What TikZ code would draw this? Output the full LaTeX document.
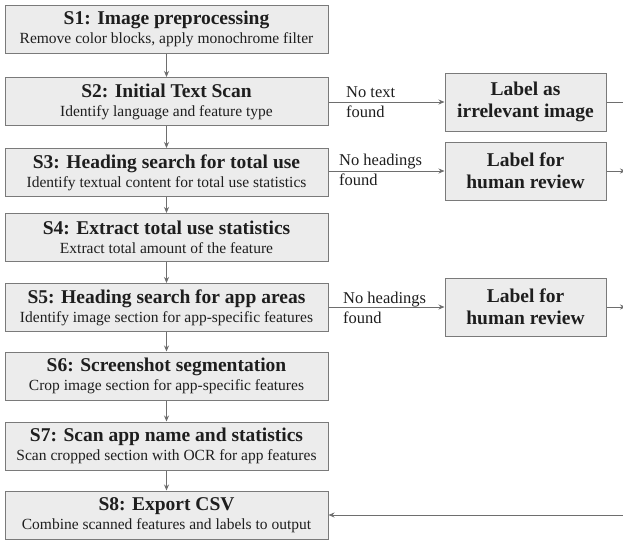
\documentclass[tikz,border=0pt]{standalone}
\usepackage{fontspec}
\setmainfont{Liberation Serif}
\usetikzlibrary{arrows.meta}
\definecolor{boxfill}{HTML}{ECECEC}
\definecolor{boxdraw}{HTML}{7A7A7A}
\definecolor{linecol}{HTML}{6E6E6E}
\definecolor{txt}{HTML}{1E1E1E}
\newcommand{\ttl}{\fontsize{19.5}{22}\selectfont\bfseries}
\newcommand{\sbt}{\fontsize{15.5}{19}\selectfont}
\newcommand{\elab}{\fontsize{16.5}{20}\selectfont}
\begin{document}
\begin{tikzpicture}[x=1pt,y=-1pt,
  stepbox/.style={draw=boxdraw, fill=boxfill, line width=1pt, minimum width=323pt, minimum height=48pt, inner sep=0pt, align=center, text=txt, font=\sbt},
  sidebox/.style={draw=boxdraw, fill=boxfill, line width=1pt, minimum width=161pt, minimum height=58pt, inner sep=0pt, align=center, text=txt, font=\ttl},
  conn/.style={draw=linecol, line width=0.9pt, -{Stealth[length=6pt,width=5pt]}},
  plain/.style={draw=linecol, line width=0.9pt},
  elabel/.style={anchor=west, align=left, inner sep=0pt, text=txt, font=\elab}
]
\useasboundingbox (0,0) rectangle (623,541);
\fill[white] (0,0) rectangle (623,541);

\node[stepbox] (s1) at (166.5,29) {{\ttl S1: Image preprocessing}\\Remove color blocks, apply monochrome filter};
\node[stepbox] (s2) at (166.5,101.5) {{\ttl S2: Initial Text Scan}\\Identify language and feature type};
\node[stepbox] (s3) at (166.5,172.5) {{\ttl S3: Heading search for total use}\\Identify textual content for total use statistics};
\node[stepbox] (s4) at (166.5,237.5) {{\ttl S4: Extract total use statistics}\\Extract total amount of the feature};
\node[stepbox] (s5) at (166.5,307.5) {{\ttl S5: Heading search for app areas}\\Identify image section for app-specific features};
\node[stepbox] (s6) at (166.5,376) {{\ttl S6: Screenshot segmentation}\\Crop image section for app-specific features};
\node[stepbox] (s7) at (166.5,446) {{\ttl S7: Scan app name and statistics}\\Scan cropped section with OCR for app features};
\node[stepbox] (s8) at (166.5,515) {{\ttl S8: Export CSV}\\Combine scanned features and labels to output};

\node[sidebox] (r1) at (525.5,102) {Label as\\irrelevant image};
\node[sidebox] (r2) at (525.5,171) {Label for\\human review};
\node[sidebox] (r3) at (525.5,307) {Label for\\human review};

\draw[conn] (s1) -- (s2);
\draw[conn] (s2) -- (s3);
\draw[conn] (s3) -- (s4);
\draw[conn] (s4) -- (s5);
\draw[conn] (s5) -- (s6);
\draw[conn] (s6) -- (s7);
\draw[conn] (s7) -- (s8);

\draw[conn] (s2.east |- r1.west) -- (r1.west);
\draw[conn] (s3.east |- r2.west) -- (r2.west);
\draw[conn] (s5.east |- r3.west) -- (r3.west);

\node[elabel] (l1) at (346,102) {No text\\found};
\node[elabel] (l2) at (339,170) {No headings\\found};
\node[elabel] (l3) at (343,308) {No headings\\found};

\coordinate (e1) at (623,102);
\coordinate (e2) at (626,171);
\coordinate (e3) at (626,307);
\coordinate (e8) at (623,515);
\begin{scope}
\clip (0,0) rectangle (623,541);
\draw[plain] (r1.east) -- (e1);
\draw[conn] (r2.east) -- (e2);
\draw[conn] (r3.east) -- (e3);
\end{scope}
\draw[conn] (e8) -- (s8.east);
\end{tikzpicture}
\end{document}
